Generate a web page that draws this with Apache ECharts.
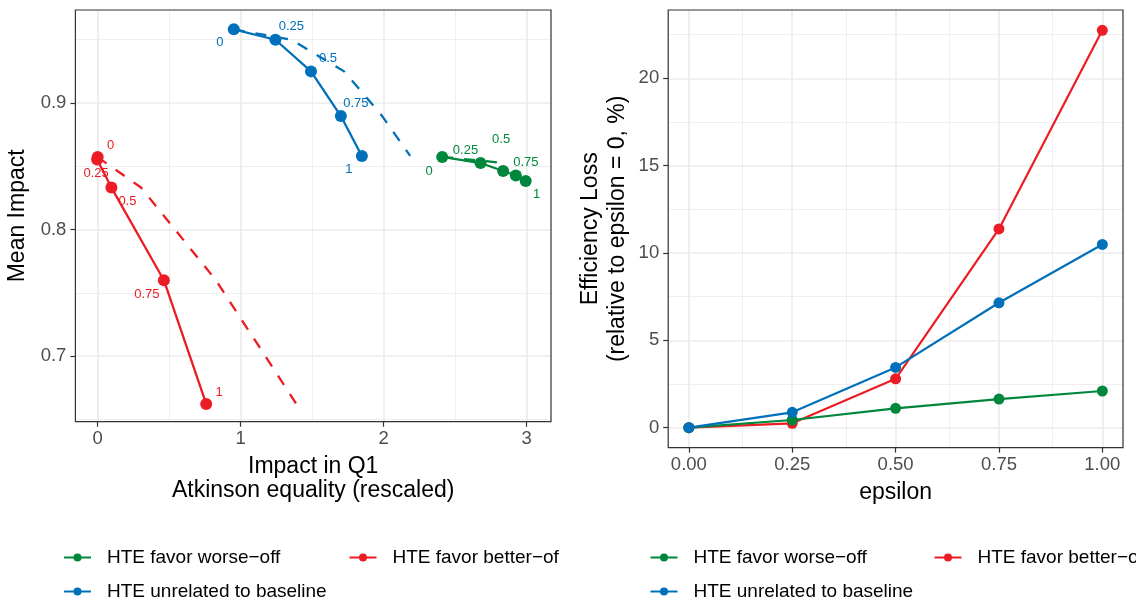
<!DOCTYPE html>
<html>
<head>
<meta charset="utf-8">
<script src="https://cdn.jsdelivr.net/npm/echarts@6/dist/echarts.min.js"></script>
<style>
html, body { margin: 0; padding: 0; background: #fff; }
#chart { width: 1136px; height: 601px; }
</style>
</head>
<body>
<div id="chart"></div>
<script>
// epsilon values and the text shown next to each point
var epsilon = [0, 0.25, 0.5, 0.75, 1];
var epsLabels = ['0', '0.25', '0.5', '0.75', '1'];

// left panel: mean impact against impact in Q1 (solid) and Atkinson equality (dashed)
var worseImpactQ1 = [2.41, 2.678, 2.836, 2.925, 2.994];
var worseAtkinson = [2.41, 2.845, 2.835, 2.92, 2.99];
var worseMean = [0.8574, 0.8526, 0.8463, 0.8427, 0.8384];

var unrelImpactQ1 = [0.952, 1.243, 1.492, 1.701, 1.848];
var unrelAtkinson = [0.952, 1.355, 1.724, 1.99, 2.186];
var unrelMean = [0.9582, 0.950, 0.925, 0.8897, 0.8582];

var betterImpactQ1 = [0.0, -0.004, 0.096, 0.463, 0.759];
var betterAtkinson = [0.0, 0.024, 0.303, 0.827, 1.39];
var betterMean = [0.8574, 0.8553, 0.8332, 0.760, 0.6622];

// right panel: efficiency loss relative to epsilon = 0 (%)
var worseLoss = [0, 0.44, 1.11, 1.64, 2.10];
var unrelLoss = [0, 0.88, 3.45, 7.15, 10.49];
var betterLoss = [0, 0.25, 2.80, 11.38, 22.75];

// tick positions
var leftXTicks = [0, 1, 2, 3];
var leftXMinor = [0.5, 1.5, 2.5];
var leftYTicks = [0.7, 0.8, 0.9];
var leftYMinor = [0.65, 0.75, 0.85, 0.95];
var rightXTicks = [0, 0.25, 0.5, 0.75, 1];
var rightXMinor = [0.125, 0.375, 0.625, 0.875];
var rightYTicks = [0, 5, 10, 15, 20];
var rightYMinor = [2.5, 7.5, 12.5, 17.5, 22.5];

var NAME_WORSE = 'HTE favor worse\u2212off';
var NAME_BETTER = 'HTE favor better\u2212off';
var NAME_UNREL = 'HTE unrelated to baseline';

var GREEN = '#00873C', RED = '#EC1C24', BLUE = '#0070BA';
var FONT = '"Liberation Sans", Arial, Helvetica, sans-serif';

// where the epsilon labels sit relative to their point (px)
var worseOffsets = [[-13, 14], [-15, -13], [-2, -32], [10, -13], [11, 13]];
var unrelOffsets = [[-14, 13], [16, -13], [17, -13], [15, -13], [-13, 13]];
var betterOffsets = [[13, -12], [-1, 14], [16, 14], [-17, 14], [13, -12]];

var myChart = echarts.init(document.getElementById('chart'));

function solidLeft(name, xs, ys, color, offsets) {
    return {
        type: 'line', name: name, xAxisIndex: 0, yAxisIndex: 0, z: 4,
        data: xs.map(function (x, i) {
            return { value: [x, ys[i]], label: { offset: offsets[i] } };
        }),
        symbol: 'circle', symbolSize: 12,
        lineStyle: { color: color, width: 2.3 },
        itemStyle: { color: color },
        label: {
            show: true, position: 'inside', color: color, fontSize: 13, fontFamily: FONT,
            formatter: function (p) { return epsLabels[p.dataIndex]; }
        }
    };
}

function dashedLeft(name, xs, ys, color) {
    return {
        type: 'line', name: name, xAxisIndex: 0, yAxisIndex: 0, z: 3,
        data: xs.map(function (x, i) { return [x, ys[i]]; }),
        symbol: 'none', showSymbol: false,
        lineStyle: { color: color, width: 2.3, type: [11, 11] }
    };
}

function rightSeries(name, ys, color) {
    return {
        type: 'line', name: name, xAxisIndex: 1, yAxisIndex: 1, z: 4,
        data: epsilon.map(function (e, i) { return [e, ys[i]]; }),
        symbol: 'circle', symbolSize: 11,
        lineStyle: { color: color, width: 2.2 },
        itemStyle: { color: color }
    };
}

function gridLines(axisIdx, xMajor, xMinor, yMajor, yMinor) {
    var d = [];
    xMinor.forEach(function (v) { d.push({ xAxis: v, lineStyle: { width: 0.8 } }); });
    yMinor.forEach(function (v) { d.push({ yAxis: v, lineStyle: { width: 0.8 } }); });
    xMajor.forEach(function (v) { d.push({ xAxis: v, lineStyle: { width: 1.6 } }); });
    yMajor.forEach(function (v) { d.push({ yAxis: v, lineStyle: { width: 1.6 } }); });
    return {
        type: 'line', xAxisIndex: axisIdx, yAxisIndex: axisIdx, data: [], z: 0, silent: true,
        markLine: {
            silent: true, z: 0, zlevel: 0, symbol: ['none', 'none'], animation: false,
            label: { show: false },
            lineStyle: { color: '#EBEBEB', type: 'solid' },
            emphasis: { disabled: true },
            data: d
        }
    };
}

function xAxisOpt(idx, min, max, ticks, fmt, name) {
    return {
        type: 'value', gridIndex: idx, min: min, max: max,
        axisLine: { show: false, onZero: false },
        splitLine: { show: false },
        axisTick: { show: true, customValues: ticks, length: 5, lineStyle: { color: '#333', width: 1.2 } },
        axisLabel: { customValues: ticks, color: '#4D4D4D', fontSize: 18.5, fontFamily: FONT, margin: 8, formatter: fmt },
        name: name, nameLocation: 'middle', nameGap: 33,
        nameTextStyle: { fontSize: 23, color: '#000', fontFamily: FONT, lineHeight: 24 }
    };
}

function yAxisOpt(idx, min, max, ticks, fmt, name, gap, lh) {
    return {
        type: 'value', gridIndex: idx, min: min, max: max,
        axisLine: { show: false, onZero: false },
        splitLine: { show: false },
        axisTick: { show: true, customValues: ticks, length: 5, lineStyle: { color: '#333', width: 1.2 } },
        axisLabel: { customValues: ticks, color: '#4D4D4D', fontSize: 18.5, fontFamily: FONT, margin: 9, formatter: fmt },
        name: name, nameLocation: 'middle', nameGap: gap,
        nameTextStyle: { fontSize: 23, color: '#000', fontFamily: FONT, lineHeight: lh }
    };
}

function legendItem(left, top, name, extraText) {
    var ts = { fontSize: 19, color: '#000', fontFamily: FONT, padding: [0, 0, 0, 11] };
    if (extraText) echarts.util.extend(ts, extraText);
    return {
        left: left, top: top, itemWidth: 27, itemHeight: 10, selectedMode: false,
        padding: 0, data: [name], textStyle: ts
    };
}

var option = {
    animation: false,
    backgroundColor: '#fff',
    grid: [
        { left: 75.4, top: 10, width: 475.6, height: 411.7, show: true, borderColor: '#333', borderWidth: 1.2, backgroundColor: 'transparent', z: 3 },
        { left: 668.2, top: 10, width: 454.8, height: 437.7, show: true, borderColor: '#333', borderWidth: 1.2, backgroundColor: 'transparent', z: 3 }
    ],
    xAxis: [
        xAxisOpt(0, -0.156, 3.171, leftXTicks, function (v) { return String(v); },
            'Impact in Q1\nAtkinson equality (rescaled)'),
        xAxisOpt(1, -0.05, 1.05, rightXTicks, function (v) { return v.toFixed(2); }, 'epsilon')
    ],
    yAxis: [
        yAxisOpt(0, 0.6482, 0.9735, leftYTicks, function (v) { return v.toFixed(1); }, 'Mean Impact', 46, 24),
        yAxisOpt(1, -1.145, 23.91, rightYTicks, function (v) { return String(v); },
            'Efficiency Loss\n(relative to epsilon = 0, %)', 37, 27)
    ],
    legend: [
        legendItem(63, 548, NAME_WORSE),
        legendItem(63, 582, NAME_UNREL),
        legendItem(348.5, 548, NAME_BETTER, { width: 170, overflow: 'truncate', ellipsis: '' }),
        legendItem(649.5, 548, NAME_WORSE),
        legendItem(649.5, 582, NAME_UNREL),
        legendItem(933.5, 548, NAME_BETTER)
    ],
    series: [
        rightSeries(NAME_BETTER, betterLoss, RED),
        rightSeries(NAME_WORSE, worseLoss, GREEN),
        rightSeries(NAME_UNREL, unrelLoss, BLUE),
        solidLeft(NAME_WORSE, worseImpactQ1, worseMean, GREEN, worseOffsets),
        solidLeft(NAME_UNREL, unrelImpactQ1, unrelMean, BLUE, unrelOffsets),
        solidLeft(NAME_BETTER, betterImpactQ1, betterMean, RED, betterOffsets),
        dashedLeft(NAME_WORSE, worseAtkinson, worseMean, GREEN),
        dashedLeft(NAME_UNREL, unrelAtkinson, unrelMean, BLUE),
        dashedLeft(NAME_BETTER, betterAtkinson, betterMean, RED),
        gridLines(0, leftXTicks, leftXMinor, leftYTicks, leftYMinor),
        gridLines(1, rightXTicks, rightXMinor, rightYTicks, rightYMinor)
    ]
};

myChart.setOption(option);
</script>
</body>
</html>
